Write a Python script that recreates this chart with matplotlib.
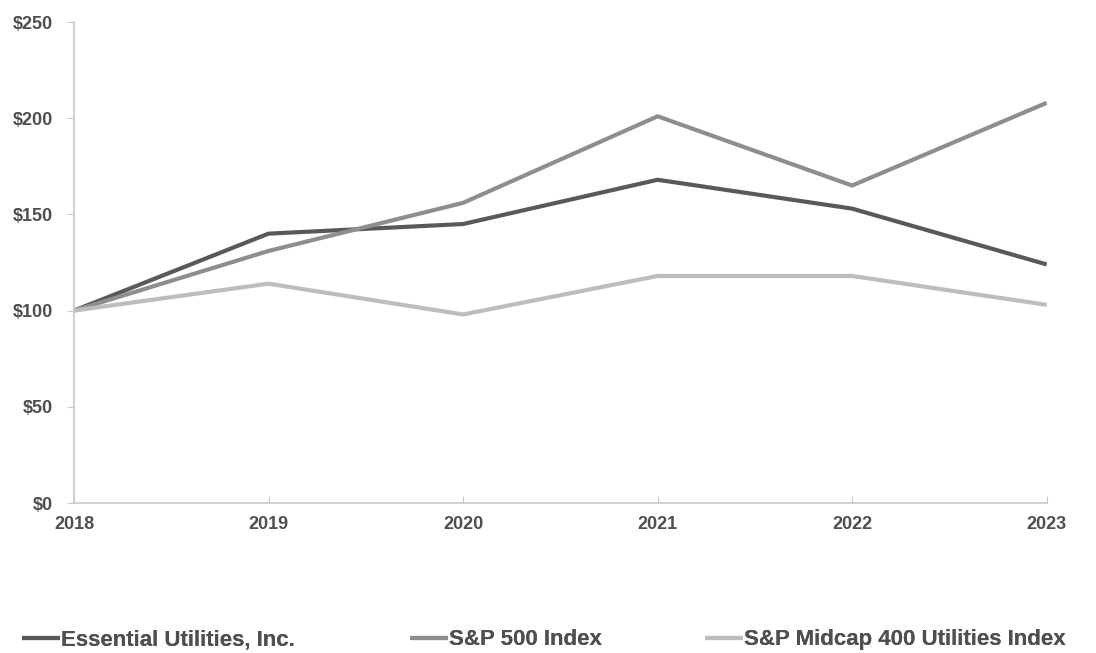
import matplotlib
matplotlib.use("Agg")
import matplotlib.pyplot as plt
from matplotlib.ticker import FuncFormatter

plt.rcParams["font.family"] = ["Liberation Sans", "DejaVu Sans"]
plt.rcParams["font.weight"] = "bold"

years = [2018, 2019, 2020, 2021, 2022, 2023]
essential = [100, 140, 145, 168, 153, 124]
sp500 = [100, 131, 156, 201, 165, 208]
midcap_util = [100, 114, 98, 118, 118, 103]

series = [
    ("Essential Utilities, Inc.", essential, "#595959"),
    ("S&P 500 Index", sp500, "#8e8e8e"),
    ("S&P Midcap 400 Utilities Index", midcap_util, "#bdbdbd"),
]
legend_x = [0.020, 0.374, 0.643]

fig = plt.figure(figsize=(10.96, 6.53), dpi=100)
ax = fig.add_axes([0.0675, 0.2297, 0.8875, 0.7366])

handles = []
for name, vals, col in series:
    h, = ax.plot(years, vals, color=col, linewidth=3.0, label=name,
                 solid_capstyle="butt", solid_joinstyle="miter")
    handles.append(h)

ax.set_xlim(2018, 2023)
ax.set_ylim(0, 250)
ax.set_xticks(years)
ax.set_yticks(range(0, 251, 50))
ax.yaxis.set_major_formatter(FuncFormatter(lambda v, p: f"${int(v)}"))

for s in ["top", "right"]:
    ax.spines[s].set_visible(False)
for s in ["left", "bottom"]:
    ax.spines[s].set_color("#c8c8c8")
    ax.spines[s].set_linewidth(1.2)

ax.tick_params(axis="y", direction="out", length=5, color="#c8c8c8",
               labelsize=13, labelcolor="#4f4f4f", pad=10)
ax.tick_params(axis="x", direction="in", length=5, color="#c8c8c8",
               labelsize=13, labelcolor="#4f4f4f", pad=9)
for lbl in ax.get_xticklabels() + ax.get_yticklabels():
    lbl.set_fontweight("bold")

# one legend per entry so the gaps match the original
for h, x in zip(handles, legend_x):
    leg = fig.legend(handles=[h], loc="center left", bbox_to_anchor=(x, 0.02),
                     frameon=False, fontsize=16, handlelength=1.7,
                     handletextpad=0.05, borderpad=0, borderaxespad=0)
    for t in leg.get_texts():
        t.set_color("#4f4f4f")
        t.set_fontweight("bold")
    fig.add_artist(leg)

fig.savefig("out.png", dpi=100)
